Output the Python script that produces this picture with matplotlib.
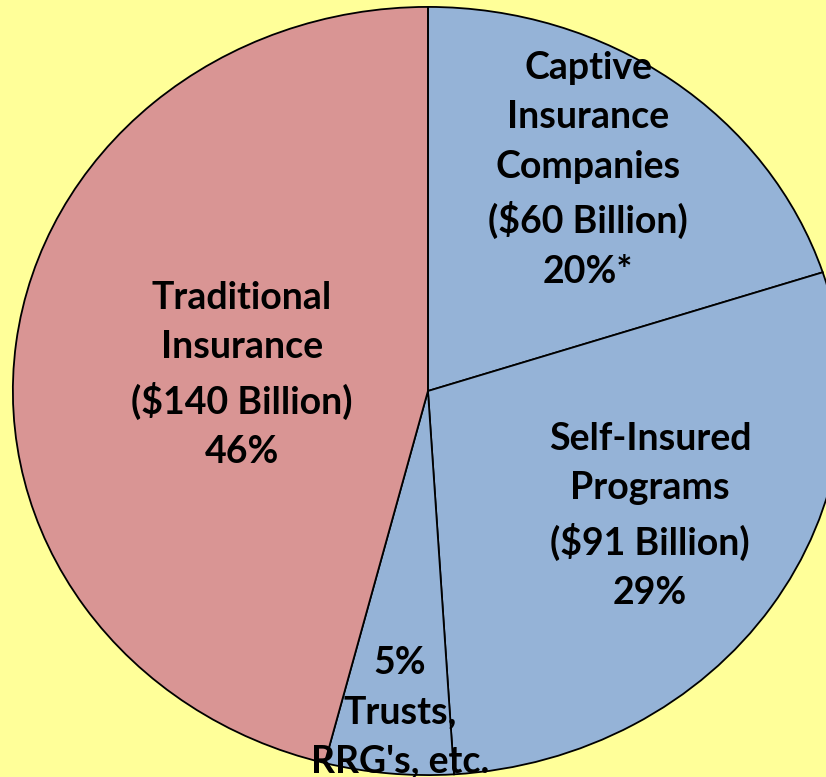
import matplotlib.pyplot as plt

labels = ["Captive\nInsurance\nCompanies\n($60 Billion)\n20%*",
          "Self-Insured\nPrograms\n($91 Billion)\n29%",
          "5%\nTrusts,\nRRG's, etc.",
          "Traditional\nInsurance\n($140 Billion)\n46%"]
shares = [20, 29, 5, 46]
colors = ["#95B3D7", "#95B3D7", "#95B3D7", "#D99594"]
# label centres in data units (pie radius = 1)
label_pos = [(0.386, 0.576), (0.535, -0.326), (-0.067, -0.836), (-0.448, 0.042)]

fig = plt.figure(figsize=(8.26, 7.77), dpi=100)
fig.patch.set_facecolor("#FFFF99")
ax = fig.add_axes([0, 0, 1, 1])
ax.set_facecolor("#FFFF99")

wedges, _ = ax.pie(shares, colors=colors, startangle=90, counterclock=False,
                   radius=1.0,
                   wedgeprops=dict(edgecolor="black", linewidth=1.3))

for txt, (x, y) in zip(labels, label_pos):
    ax.text(x, y, txt, ha="center", va="center", fontsize=27,
            fontweight="bold", family="Lato", linespacing=1.55)

ax.set_aspect("auto")
ax.set_xlim(-1.031, 0.959)
ax.set_ylim(-1.005, 1.018)
ax.axis("off")

fig.savefig("out.png", dpi=100, facecolor=fig.get_facecolor())
